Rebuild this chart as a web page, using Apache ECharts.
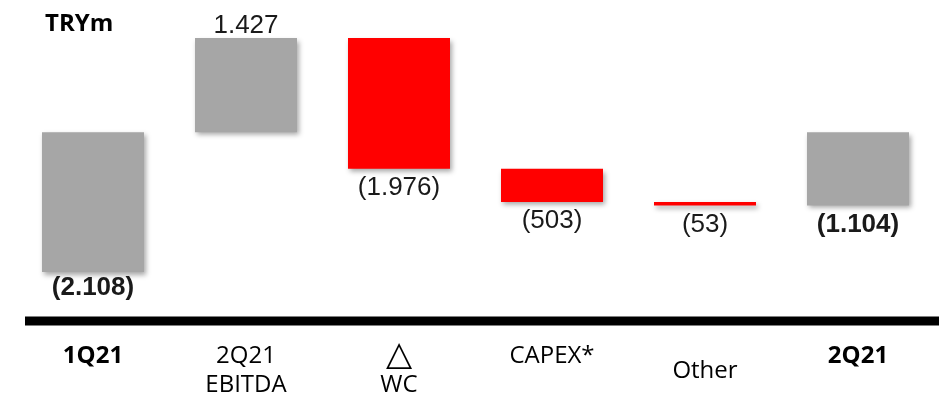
<!DOCTYPE html>
<html>
<head>
<meta charset="utf-8">
<script src="https://cdn.jsdelivr.net/npm/echarts@6/dist/echarts.min.js"></script>
<style>
  html, body { margin: 0; padding: 0; background: #fff; }
  #chart { width: 944px; height: 395px; }
</style>
</head>
<body>
<div id="chart"></div>
<script>
// Cash flow bridge, TRY millions
const categories = ['1Q21', '2Q21\nEBITDA', '△\nWC', 'CAPEX*', 'Other', '2Q21'];
const openingValue = -2108;
const movements = [1427, -1976, -503, -53];
const closingValue = -1104;

const GREY = '#a6a6a6';
const RED = '#ff0000';

// Running level: totals hang from zero, movements chain from zero upward/downward
const baseValues = [0];
const deltaValues = [openingValue];
let level = 0;
movements.forEach(function (m) {
  baseValues.push(level);
  deltaValues.push(m);
  level += m;
});
baseValues.push(0);
deltaValues.push(closingValue);

const lastIdx = deltaValues.length - 1;

function fmt(v) {
  const s = Math.abs(v).toString().replace(/\B(?=(\d{3})+(?!\d))/g, '.');
  return v < 0 ? '(' + s + ')' : s;
}

const barShadow = {
  shadowColor: 'rgba(0,0,0,0.35)',
  shadowBlur: 5,
  shadowOffsetX: 2,
  shadowOffsetY: 3
};

const deltaData = deltaValues.map(function (v, i) {
  const isTotal = i === 0 || i === lastIdx;
  const color = isTotal || v > 0 ? GREY : RED;
  return {
    value: v,
    itemStyle: Object.assign({ color: color }, barShadow),
    label: {
      position: v >= 0 ? 'top' : 'bottom',
      distance: i === 0 ? 3 : (v >= 0 ? -1 : 6),
      fontWeight: isTotal ? 'bold' : 'normal'
    }
  };
});

const axisCats = categories.map(function (c, i) {
  const isTotal = i === 0 || i === lastIdx;
  return isTotal ? { value: c, textStyle: { fontWeight: 'bold' } } : c;
});

const chart = echarts.init(document.getElementById('chart'), null, { renderer: 'canvas' });
chart.setOption({
  animation: false,
  backgroundColor: '#ffffff',
  title: {
    text: 'TRYm',
    left: 40,
    top: 6,
    textStyle: {
      fontFamily: 'Open Sans',
      fontWeight: 'bold',
      fontSize: 24,
      lineHeight: 26,
      color: '#000'
    }
  },
  grid: {
    left: 16.5, right: 9.5, top: 0, bottom: 74,
    containLabel: false,
    outerBoundsMode: 'none'
  },
  xAxis: {
    type: 'category',
    data: axisCats,
    axisLine: { show: false },
    axisTick: { show: false },
    axisLabel: {
      interval: 0,
      margin: 21,
      fontFamily: 'Open Sans',
      fontSize: 24,
      lineHeight: 29,
      color: '#000',
      formatter: function (v) {
        if (v === 'Other') return '{low|Other}';
        return v.replace('△', '{tri|△}');
      },
      rich: {
        low: { fontFamily: 'Open Sans', fontSize: 24, lineHeight: 58, color: '#000' },
        tri: { fontFamily: 'DejaVu Sans', fontSize: 34, lineHeight: 29, color: '#000' }
      }
    }
  },
  yAxis: {
    type: 'value',
    min: -2850,
    max: 2000,
    show: false,
    splitLine: { show: false }
  },
  graphic: [{
    type: 'line',
    shape: { x1: 25, y1: 321, x2: 939, y2: 321 },
    style: { stroke: '#000', lineWidth: 9 },
    z: 10
  }],
  series: [
    {
      type: 'bar',
      stack: 'bridge',
      stackStrategy: 'all',
      barWidth: 102,
      silent: true,
      itemStyle: { color: 'transparent' },
      data: baseValues
    },
    {
      type: 'bar',
      stack: 'bridge',
      stackStrategy: 'all',
      barWidth: 102,
      data: deltaData,
      label: {
        show: true,
        fontFamily: 'Liberation Sans',
        fontSize: 26,
        lineHeight: 26,
        color: '#1a1a1a',
        formatter: function (p) { return fmt(p.value); }
      }
    }
  ]
});
</script>
</body>
</html>
